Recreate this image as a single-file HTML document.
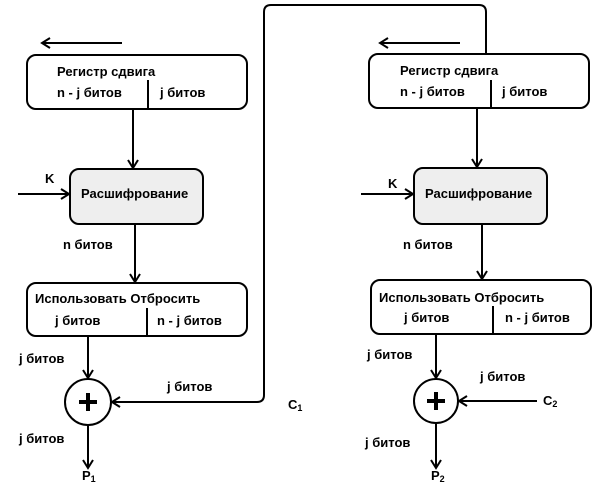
<!DOCTYPE html>
<html><head><meta charset="utf-8"><style>
body{margin:0;background:#fff}
svg text{font-family:"Liberation Sans",sans-serif;font-weight:bold;font-size:13px;fill:#000}
</style></head><body>
<svg width="600" height="491" viewBox="0 0 600 491" xmlns="http://www.w3.org/2000/svg">
<defs>
<marker id="a" markerWidth="12" markerHeight="12" refX="10" refY="6" orient="auto" markerUnits="userSpaceOnUse">
<path d="M2,1 L10,6 L2,11" fill="none" stroke="#000" stroke-width="2"/></marker>
</defs>
<g stroke="#000" stroke-width="2" fill="none">
<!-- left -->
<line x1="122" y1="43" x2="42" y2="43" marker-end="url(#a)"/>
<rect x="27" y="55" width="220" height="54" rx="9" fill="#fff"/>
<line x1="148" y1="80" x2="148" y2="108"/>
<line x1="133" y1="109" x2="133" y2="168" marker-end="url(#a)"/>
<rect x="70" y="169" width="133" height="55" rx="9" fill="#eeeeee"/>
<line x1="18" y1="194" x2="69" y2="194" marker-end="url(#a)"/>
<line x1="135" y1="224" x2="135" y2="282" marker-end="url(#a)"/>
<rect x="27" y="283" width="220" height="53" rx="9" fill="#fff"/>
<line x1="147" y1="308" x2="147" y2="336"/>
<line x1="88" y1="336" x2="88" y2="378" marker-end="url(#a)"/>
<circle cx="88" cy="402" r="23" fill="#fff"/>
<line x1="88" y1="425" x2="88" y2="468" marker-end="url(#a)"/>
<path d="M486,55 L486,12 Q486,5 479,5 L271,5 Q264,5 264,12 L264,395 Q264,402 257,402 L112,402" marker-end="url(#a)"/>
<!-- right -->
<line x1="460" y1="43" x2="380" y2="43" marker-end="url(#a)"/>
<rect x="369" y="54" width="220" height="54" rx="9" fill="#fff"/>
<line x1="491" y1="80" x2="491" y2="108"/>
<line x1="477" y1="108" x2="477" y2="167" marker-end="url(#a)"/>
<rect x="414" y="168" width="133" height="56" rx="9" fill="#eeeeee"/>
<line x1="361" y1="194" x2="413" y2="194" marker-end="url(#a)"/>
<line x1="482" y1="224" x2="482" y2="279" marker-end="url(#a)"/>
<rect x="371" y="280" width="220" height="54" rx="9" fill="#fff"/>
<line x1="493" y1="306" x2="493" y2="334"/>
<line x1="436" y1="334" x2="436" y2="378" marker-end="url(#a)"/>
<circle cx="436" cy="401" r="22" fill="#fff"/>
<line x1="537" y1="401" x2="459" y2="401" marker-end="url(#a)"/>
<line x1="436" y1="423" x2="436" y2="468" marker-end="url(#a)"/>
</g>
<g stroke="#000" stroke-width="4">
<line x1="79" y1="402" x2="97" y2="402"/><line x1="88" y1="393" x2="88" y2="411"/>
<line x1="427" y1="401" x2="445" y2="401"/><line x1="436" y1="392" x2="436" y2="410"/>
</g>
<text x="57" y="76">Регистр сдвига</text>
<text x="57" y="97">n - j битов</text>
<text x="160" y="97">j битов</text>
<text x="81" y="198">Расшифрование</text>
<text x="45" y="183">K</text>
<text x="63" y="249">n  битов</text>
<text x="35" y="303">Использовать Отбросить</text>
<text x="55" y="325">j битов</text>
<text x="157" y="325">n - j битов</text>
<text x="19" y="363">j битов</text>
<text x="167" y="391">j битов</text>
<text x="19" y="443">j  битов</text>
<text x="82" y="480">P<tspan font-size="9" dy="2">1</tspan></text>
<text x="288" y="409">C<tspan font-size="9" dy="2">1</tspan></text>

<text x="400" y="75">Регистр сдвига</text>
<text x="400" y="96">n - j битов</text>
<text x="502" y="96">j битов</text>
<text x="425" y="198">Расшифрование</text>
<text x="388" y="188">K</text>
<text x="403" y="249">n  битов</text>
<text x="379" y="302">Использовать Отбросить</text>
<text x="404" y="322">j битов</text>
<text x="505" y="322">n - j битов</text>
<text x="367" y="359">j битов</text>
<text x="480" y="381">j битов</text>
<text x="543" y="405">C<tspan font-size="9" dy="2">2</tspan></text>
<text x="365" y="447">j битов</text>
<text x="431" y="480">P<tspan font-size="9" dy="2">2</tspan></text>
</svg>
</body></html>
